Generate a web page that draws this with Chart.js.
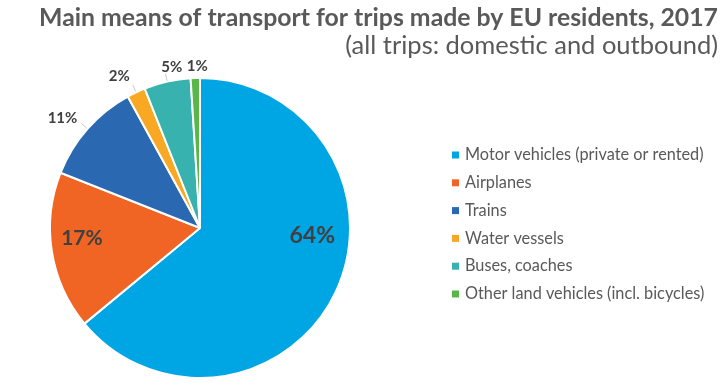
<!DOCTYPE html>
<html>
<head>
<meta charset="utf-8">
<script src="https://cdn.jsdelivr.net/npm/chart.js@4.4.1/dist/chart.umd.min.js"></script>
<style>
html,body{margin:0;padding:0;background:#fff;}
#wrap{position:relative;width:728px;height:383px;}
</style>
</head>
<body>
<div id="wrap"><canvas id="c" width="728" height="383"></canvas></div>
<script>
const titleText = "Main means of transport for trips made by EU residents, 2017";
const subtitleText = "(all trips: domestic and outbound)";
const categories = [
  "Motor vehicles (private or rented)",
  "Airplanes",
  "Trains",
  "Water vessels",
  "Buses, coaches",
  "Other land vehicles (incl. bicycles)"
];
const shares = [64, 17, 11, 2, 5, 1];
const shareLabels = ["64%", "17%", "11%", "2%", "5%", "1%"];

// styling (not data)
const colors = ["#00a5e3", "#f06523", "#2a68b2", "#f8a822", "#37b2ae", "#57b847"];
// label placement: [angle deg clockwise from 12 o'clock, radius fraction, font size, leader line]
const labelStyle = [
  {angle: 94, rf: 0.75, size: 23, leader: false},
  {angle: 265, rf: 0.79, size: 21, leader: false},
  {angle: 308.6, rf: 1.173, size: 15, leader: true},
  {angle: 332, rf: 1.147, size: 15, leader: true},
  {angle: 350, rf: 1.087, size: 15, leader: true},
  {angle: 359, rf: 1.08, size: 15, leader: false}
];
const FONT = "Lato, 'Open Sans', sans-serif";

const overlay = {
  id: "overlay",
  afterDraw(chart) {
    const ctx = chart.ctx;
    const meta = chart.getDatasetMeta(0);
    ctx.save();
    // title
    ctx.textAlign = "right";
    ctx.textBaseline = "middle";
    ctx.fillStyle = "#595959";
    ctx.font = "bold 24.8px " + FONT;
    ctx.fillText(titleText, 718, 18);
    ctx.font = "25.5px " + FONT;
    ctx.fillText(subtitleText, 718, 46);

    // slice labels
    meta.data.forEach((arc, i) => {
      const st = labelStyle[i];
      const cx = arc.x, cy = arc.y, r = arc.outerRadius;
      if (st.leader) {
        const mid = (arc.startAngle + arc.endAngle) / 2;
        const ux = Math.cos(mid), uy = Math.sin(mid);
        ctx.strokeStyle = "#c8c8c8";
        ctx.lineWidth = 1;
        ctx.beginPath();
        ctx.moveTo(cx + ux * (r + 1), cy + uy * (r + 1));
        ctx.lineTo(cx + ux * (r + 8), cy + uy * (r + 8));
        ctx.stroke();
      }
      ctx.fillStyle = "#404040";
      ctx.font = "bold " + st.size + "px " + FONT;
      ctx.textAlign = "center";
      ctx.textBaseline = "middle";
      const a = st.angle * Math.PI / 180;
      ctx.fillText(shareLabels[i], cx + r * st.rf * Math.sin(a), cy - r * st.rf * Math.cos(a));
    });

    // legend
    ctx.textAlign = "left";
    ctx.textBaseline = "middle";
    ctx.font = "16.3px " + FONT;
    categories.forEach((c, i) => {
      const y = 155 + i * 27.8;
      ctx.fillStyle = colors[i];
      ctx.fillRect(452, y - 3.5, 7, 7);
      ctx.fillStyle = "#595959";
      ctx.fillText(c, 465, y);
    });
    ctx.restore();
  }
};

new Chart(document.getElementById("c"), {
  type: "pie",
  data: {
    labels: categories,
    datasets: [{
      data: shares,
      backgroundColor: colors,
      borderColor: "#ffffff",
      borderWidth: 2
    }]
  },
  options: {
    responsive: false,
    animation: false,
    layout: {padding: {left: 49, right: 377, top: 77, bottom: 4}},
    plugins: {legend: {display: false}, tooltip: {enabled: false}, title: {display: false}}
  },
  plugins: [overlay]
});
</script>
</body>
</html>
